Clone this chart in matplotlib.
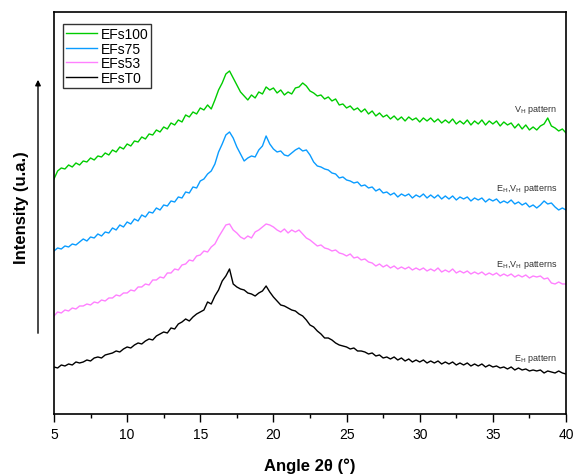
import matplotlib
matplotlib.use("Agg")
import matplotlib.pyplot as plt
import numpy as np
from matplotlib.ticker import MultipleLocator

plt.rcParams['font.family'] = ['Liberation Sans', 'DejaVu Sans']

# 2-theta grid, 0.25 deg steps (one row = one degree below)
angle = np.arange(5.0, 40.001, 0.25)

# intensities (arbitrary units, stacked as drawn)
efs100 = [
    235, 243, 246, 245, 249, 247, 251, 249, 253, 252, 256, 254,
    258, 257, 261, 259, 264, 262, 267, 265, 270, 268, 273, 272,
    277, 275, 280, 279, 284, 282, 287, 285, 291, 289, 294, 292,
    299, 297, 302, 300, 306, 304, 309, 305, 314, 324, 331, 340,
    343, 336, 329, 322, 318, 314, 319, 316, 322, 320, 327, 324,
    326, 321, 324, 319, 322, 320, 326, 327, 331, 328, 323, 321,
    318, 319, 315, 317, 313, 315, 309, 310, 306, 308, 304, 306,
    302, 305, 300, 303, 298, 301, 297, 299, 295, 298, 294, 297,
    293, 297, 294, 296, 292, 296, 293, 296, 292, 295, 291, 294,
    291, 295, 290, 293, 290, 294, 289, 293, 290, 294, 289, 293,
    290, 293, 288, 292, 289, 291, 286, 290, 285, 289, 284, 287,
    284, 288, 290, 296, 288, 286, 283, 285, 281,
]
efs75 = [
    163, 166, 165, 168, 167, 170, 169, 172, 175, 173, 177, 176,
    180, 178, 182, 181, 186, 184, 189, 187, 192, 190, 195, 193,
    199, 197, 202, 201, 206, 204, 209, 208, 213, 212, 217, 216,
    222, 221, 227, 226, 233, 235, 240, 243, 250, 262, 270, 279,
    282, 276, 267, 260, 253, 256, 258, 257, 264, 268, 278, 270,
    265, 262, 263, 259, 258, 261, 264, 266, 263, 264, 259, 252,
    248, 247, 245, 244, 241, 240, 236, 237, 234, 233, 231, 232,
    228, 229, 226, 227, 223, 225, 221, 222, 219, 221, 217, 220,
    218, 220, 216, 219, 217, 220, 216, 219, 216, 219, 215, 218,
    215, 218, 214, 217, 215, 217, 213, 216, 214, 216, 212, 215,
    213, 215, 211, 213, 211, 214, 210, 212, 209, 211, 207, 209,
    206, 209, 213, 210, 211, 207, 204, 206, 204,
]
efs53 = [
    98, 102, 101, 104, 103, 106, 105, 108, 108, 110, 109, 112,
    111, 114, 113, 116, 116, 119, 118, 121, 121, 124, 123, 127,
    127, 130, 129, 134, 134, 137, 136, 141, 141, 145, 144, 149,
    150, 154, 153, 158, 159, 163, 162, 167, 170, 177, 183, 189,
    190, 184, 181, 177, 175, 178, 176, 182, 184, 187, 190, 189,
    187, 184, 182, 185, 181, 184, 182, 184, 180, 176, 174, 171,
    168, 169, 166, 165, 163, 164, 161, 160, 158, 160, 156, 157,
    154, 155, 152, 151, 148, 150, 147, 149, 146, 148, 145, 147,
    145, 147, 144, 146, 144, 146, 143, 145, 143, 146, 142, 144,
    142, 145, 141, 143, 141, 143, 140, 142, 140, 142, 139, 141,
    139, 141, 138, 140, 138, 140, 137, 139, 137, 139, 136, 138,
    137, 138, 135, 136, 131, 130, 132, 130, 130,
]
efst0 = [
    47, 46, 49, 48, 50, 49, 52, 51, 52, 54, 53, 56,
    57, 56, 59, 60, 61, 63, 62, 65, 67, 66, 69, 71,
    70, 73, 75, 74, 78, 80, 82, 81, 86, 85, 90, 92,
    95, 93, 97, 100, 102, 104, 112, 110, 118, 124, 133, 138,
    145, 130, 127, 125, 124, 121, 120, 118, 121, 123, 128, 122,
    117, 113, 109, 108, 106, 104, 103, 100, 98, 94, 89, 87,
    83, 80, 76, 76, 74, 71, 69, 68, 67, 65, 66, 63,
    63, 62, 60, 61, 58, 59, 56, 57, 55, 57, 54, 56,
    53, 55, 52, 54, 52, 54, 51, 53, 51, 53, 50, 52,
    50, 52, 49, 51, 49, 51, 48, 50, 48, 50, 47, 49,
    47, 48, 46, 47, 45, 47, 44, 46, 44, 45, 43, 44,
    43, 44, 41, 43, 42, 41, 43, 41, 40,
]

labels = ["EFs100", "EFs75", "EFs53", "EFsT0"]
colors = ["#00cc00", "#0a9cff", "#ff80ff", "#000000"]
notes = [r"V$_\mathrm{H}$ pattern",
         r"E$_\mathrm{H}$,V$_\mathrm{H}$ patterns",
         r"E$_\mathrm{H}$,V$_\mathrm{H}$ patterns",
         r"E$_\mathrm{H}$ pattern"]
note_y = [305, 226, 150, 56]

fig = plt.figure(figsize=(5.73, 4.77), dpi=100)
ax = fig.add_axes([0.0942, 0.130, 0.8936, 0.8428])

for series, lab, col in zip([efs100, efs75, efs53, efst0], labels, colors):
    ax.plot(angle, series, color=col, lw=1.0, label=lab)

for txt, yy in zip(notes, note_y):
    ax.text(39.4, yy, txt, ha='right', va='center', fontsize=6.5, color='#333333')

ax.set_xlim(5, 40)
ax.set_ylim(0, 402)
ax.set_yticks([])
ax.xaxis.set_major_locator(MultipleLocator(5))
ax.xaxis.set_minor_locator(MultipleLocator(2.5))
ax.tick_params(axis='x', which='major', direction='out', length=6, width=1, labelsize=10)
ax.tick_params(axis='x', which='minor', direction='out', length=3, width=1)
for sp in ax.spines.values():
    sp.set_linewidth(1.2)

ax.set_xlabel("Angle 2θ (°)", fontsize=12, fontweight='bold', labelpad=12)
fig.text(0.037, 0.565, "Intensity (u.a.)", rotation=90, ha='center', va='center',
         fontsize=12, fontweight='bold')
ax.annotate('', xy=(38 / 573, 1 - 78 / 477), xytext=(38 / 573, 1 - 337 / 477),
            xycoords='figure fraction', textcoords='figure fraction',
            arrowprops=dict(arrowstyle='-|>', color='black', lw=1, mutation_scale=8))

leg = ax.legend(loc='upper left', bbox_to_anchor=(0.018, 0.97), fontsize=10,
                frameon=True, fancybox=False, edgecolor='black', handlelength=2.2,
                handletextpad=0.3, labelspacing=0.05, borderpad=0.2, borderaxespad=0)
leg.get_frame().set_linewidth(1)

fig.savefig("out.png", dpi=100)
